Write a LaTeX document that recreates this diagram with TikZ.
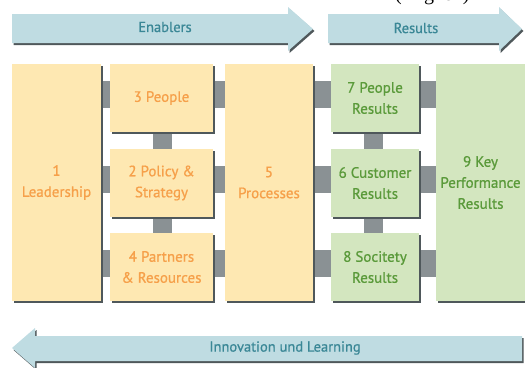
\documentclass[tikz,border=0pt]{standalone}
\usepackage{fontspec}
\setmainfont{Liberation Serif}
\newfontfamily\labelfont[FakeBold=0.8]{PT Sans}
\usetikzlibrary{calc,shadows}

\definecolor{enbFill}{HTML}{FEE8B2}
\definecolor{enbText}{HTML}{F6A04A}
\definecolor{resFill}{HTML}{D3E6BF}
\definecolor{resText}{HTML}{5A9A3A}
\definecolor{connGrey}{HTML}{8A9194}
\definecolor{shadowGrey}{HTML}{4F585B}
\definecolor{arrowFill}{HTML}{BFDCE2}
\definecolor{arrowText}{HTML}{3A8796}

\tikzset{
  boxbase/.style={rectangle, inner sep=0pt, outer sep=0pt, align=center,
    font=\labelfont\fontsize{15}{21}\selectfont,
    general shadow={fill=shadowGrey, shadow xshift=2pt, shadow yshift=-2pt}},
  enbox/.style={boxbase, fill=enbFill, text=enbText},
  resbox/.style={boxbase, fill=resFill, text=resText},
  conn/.style={fill=connGrey},
  bandarrow/.style={fill=arrowFill,
    general shadow={fill=shadowGrey, shadow xshift=1.5pt, shadow yshift=-2pt}},
  arlabel/.style={inner sep=0pt, text=arrowText, font=\labelfont\fontsize{14.5}{16}\selectfont}
}

\begin{document}
\begin{tikzpicture}[x=1pt, y=-1pt]
\useasboundingbox (0,0) rectangle (525,367);
\begin{scope}
\clip (0,0) rectangle (525,367);

% caption above, cut by the page edge
\node[anchor=base west, inner sep=0pt, font=\fontsize{20}{24}\selectfont] (caption) at (395,0) {(English)};

% band arrows
\path[bandarrow] (12,14) -- (288,14) -- (288,7) -- (313,29) -- (288,51) -- (288,43) -- (12,43) -- cycle;
\node[arlabel] (enablers) at (165,27) {Enablers};
\path[bandarrow] (328,14) -- (499,14) -- (499,7) -- (522,29) -- (499,51) -- (499,43) -- (328,43) -- cycle;
\node[arlabel] (results) at (416,28) {Results};
\path[bandarrow] (522,336) -- (35,336) -- (35,328) -- (12,348) -- (35,368) -- (35,361) -- (522,361) -- cycle;
\node[arlabel] (innov) at (285,348) {Innovation und Learning};

% criteria boxes
\node[enbox, minimum width=89pt, minimum height=237pt] (lead) at (56.5,182.5) {1\\Leadership};
\node[enbox, minimum width=103pt, minimum height=68pt] (ppl) at (161.5,98) {3 People};
\node[enbox, minimum width=103pt, minimum height=68pt] (pol) at (161.5,183) {2 Policy \&\\Strategy};
\node[enbox, minimum width=103pt, minimum height=68pt] (part) at (161.5,267) {4 Partners\\\& Resources};
\node[enbox, minimum width=88pt, minimum height=237pt] (proc) at (269,182.5) {5\\Processes};
\node[resbox, minimum width=88pt, minimum height=68pt] (pres) at (375,98) {7 People\\Results};
\node[resbox, minimum width=88pt, minimum height=68pt] (cres) at (375,183) {6 Customer\\Results};
\node[resbox, minimum width=88pt, minimum height=68pt] (sres) at (375,267) {8 Socitety\\Results};
\node[resbox, minimum width=89pt, minimum height=237pt] (kpr) at (480.5,182.5) {9 Key\\Performance\\Results};
\end{scope}

% grey links filling the gaps between neighbouring boxes
\foreach \a/\b/\r in {lead/ppl/ppl, lead/pol/pol, lead/part/part,
                      ppl/proc/ppl, pol/proc/pol, part/proc/part,
                      proc/pres/pres, proc/cres/cres, proc/sres/sres,
                      pres/kpr/pres, cres/kpr/cres, sres/kpr/sres}{
  \fill[conn] ($(\a.east |- \r.north)+(2,17)$) rectangle ($(\b.west |- \r.north)+(0,44)$);
}
\foreach \a/\b in {ppl/pol, pol/part}{
  \fill[conn] ($(\a.south)+(-8.5,2)$) rectangle ($(\b.north)+(10.5,0)$);
}
\foreach \a/\b in {pres/cres, cres/sres}{
  \fill[conn] ($(\a.south)+(-11,2)$) rectangle ($(\b.north)+(8,0)$);
}
\end{tikzpicture}
\end{document}
